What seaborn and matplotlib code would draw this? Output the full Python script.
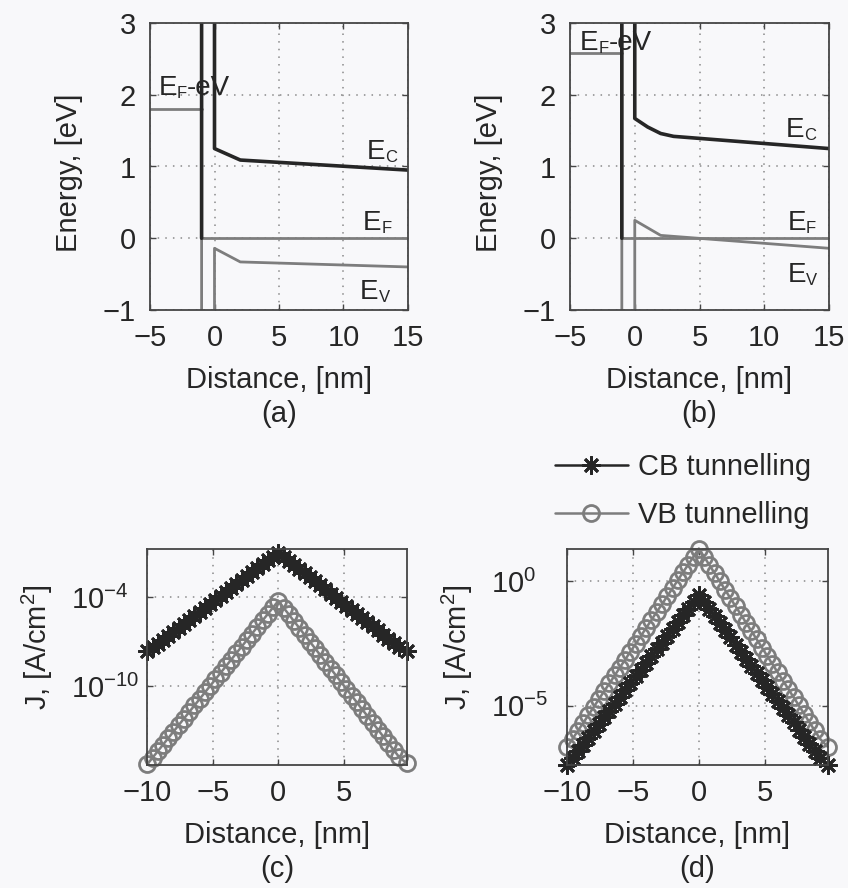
import numpy as np
import pandas as pd
import seaborn as sns
import matplotlib.pyplot as plt
from matplotlib.lines import Line2D

# ---- band diagrams (a), (b): corner points of each band edge, energy in eV
a_ec_x = [-1, -1, 0, 0, 2, 15]
a_ec_y = [0, 5, 5, 1.25, 1.09, 0.95]
a_ev_x = [-1, -1, 0, 0, 2, 15]
a_ev_y = [5, -5, -5, -0.14, -0.33, -0.40]
a_metal = 1.8

b_ec_x = [-1, -1, 0, 0, 1, 2, 3, 15]
b_ec_y = [0, 5, 5, 1.67, 1.55, 1.46, 1.42, 1.25]
b_ev_x = [-1, -1, 0, 0, 2, 15]
b_ev_y = [5, -5, -5, 0.25, 0.04, -0.14]
b_metal = 2.58

# ---- tunnelling current density (c), (d): log10(J [A/cm^2]) vs distance [nm]
dist = [-10.0, -9.6, -9.2, -8.8, -8.4, -8.0, -7.6, -7.2, -6.8, -6.4, -6.0, -5.6, -5.2,
        -4.8, -4.4, -4.0, -3.6, -3.2, -2.8, -2.4, -2.0, -1.6, -1.2, -0.8, -0.4, 0.0,
        0.4, 0.8, 1.2, 1.6, 2.0, 2.4, 2.8, 3.2, 3.6, 4.0, 4.4, 4.8, 5.2, 5.6, 6.0,
        6.4, 6.8, 7.2, 7.6, 8.0, 8.4, 8.8, 9.2, 9.8]
c_cb = [-7.65, -7.38, -7.12, -6.85, -6.59, -6.32, -6.05, -5.79, -5.52, -5.26, -4.99, -4.72, -4.46,
        -4.19, -3.93, -3.66, -3.39, -3.13, -2.86, -2.60, -2.33, -2.06, -1.80, -1.53, -1.27, -1.00,
        -1.28, -1.55, -1.83, -2.10, -2.38, -2.66, -2.93, -3.21, -3.48, -3.76, -4.04, -4.31, -4.59,
        -4.86, -5.14, -5.42, -5.69, -5.97, -6.24, -6.52, -6.80, -7.07, -7.35, -7.62]
c_vb = [-15.25, -14.81, -14.37, -13.93, -13.49, -13.05, -12.61, -12.17, -11.73, -11.29, -10.85,
        -10.41, -9.97, -9.53, -9.09, -8.65, -8.21, -7.77, -7.33, -6.89, -6.45, -6.01, -5.57, -5.13,
        -4.69, -4.25, -4.71, -5.16, -5.62, -6.07, -6.53, -6.99, -7.44, -7.90, -8.35, -8.81, -9.27,
        -9.72, -10.18, -10.63, -11.09, -11.55, -12.00, -12.46, -12.91, -13.37, -13.83, -14.28,
        -14.74, -15.19]
d_cb = [-7.38, -7.11, -6.83, -6.56, -6.29, -6.02, -5.74, -5.47, -5.20, -4.92, -4.65, -4.38, -4.11,
        -3.83, -3.56, -3.29, -3.02, -2.74, -2.47, -2.20, -1.92, -1.65, -1.38, -1.11, -0.83, -0.56,
        -0.84, -1.13, -1.41, -1.70, -1.98, -2.26, -2.55, -2.83, -3.12, -3.40, -3.68, -3.97, -4.25,
        -4.54, -4.82, -5.10, -5.39, -5.67, -5.96, -6.24, -6.52, -6.81, -7.09, -7.38]
d_vb = [-6.65, -6.33, -6.01, -5.70, -5.38, -5.06, -4.74, -4.42, -4.11, -3.79, -3.47, -3.15, -2.83,
        -2.52, -2.20, -1.88, -1.56, -1.24, -0.93, -0.61, -0.29, 0.03, 0.35, 0.66, 0.98, 1.30,
        0.97, 0.64, 0.31, -0.02, -0.36, -0.69, -1.02, -1.35, -1.68, -2.01, -2.34, -2.67, -3.01,
        -3.34, -3.67, -4.00, -4.33, -4.66, -4.99, -5.32, -5.66, -5.99, -6.32, -6.65]

ink = '#262626'
grey = '#7d7d7d'
bg = '#f8f8fa'

sns.set_style('ticks')
plt.rcParams['font.family'] = ['Liberation Sans', 'DejaVu Sans']
plt.rcParams['mathtext.fontset'] = 'custom'
plt.rcParams['mathtext.rm'] = 'Liberation Sans'
plt.rcParams['mathtext.it'] = 'Liberation Sans:italic'
plt.rcParams['mathtext.bf'] = 'Liberation Sans:bold'
fs = 21

fig = plt.figure(figsize=(8.48, 8.88), dpi=100, facecolor=bg)
ax_a = fig.add_axes([0.1769, 0.6509, 0.3042, 0.3232])
ax_b = fig.add_axes([0.6722, 0.6509, 0.3054, 0.3232])
ax_c = fig.add_axes([0.1737, 0.1385, 0.3059, 0.2432])
ax_d = fig.add_axes([0.6690, 0.1385, 0.3071, 0.2432])


def style(ax):
    ax.set_facecolor(bg)
    for s in ax.spines.values():
        s.set_color('#454545')
        s.set_linewidth(1.3)
    ax.tick_params(direction='in', length=4, width=1, colors='#454545',
                   labelcolor=ink, labelsize=fs, top=True, right=True, pad=10)
    ax.grid(True, color='#8a8a8a', linestyle=(0, (1, 4)), linewidth=1.1)


def band_label(ax, x, y, parts):
    t = ax.text(x, y, parts[0], fontsize=20, va='baseline', ha='left', color=ink)
    for i, p in enumerate(parts[1:]):
        t = ax.annotate(p, xy=(1, 0), xycoords=t, va='bottom', ha='left',
                        fontsize=12 if i % 2 == 0 else 20, color=ink)


def band_panel(ax, ec_x, ec_y, ev_x, ev_y, metal, letter, labels):
    sns.lineplot(x=[-5, -1], y=[metal, metal], ax=ax, color=grey, lw=2,
                 sort=False, estimator=None)
    sns.lineplot(x=[-1, 15], y=[0, 0], ax=ax, color=grey, lw=2,
                 sort=False, estimator=None)
    sns.lineplot(x=ev_x, y=ev_y, ax=ax, color=grey, lw=2, sort=False, estimator=None)
    sns.lineplot(x=ec_x, y=ec_y, ax=ax, color=ink, lw=2.6, sort=False, estimator=None)
    ax.set_xlim(-5, 15)
    ax.set_ylim(-1, 3)
    ax.set_xticks([-5, 0, 5, 10, 15])
    ax.set_yticks([-1, 0, 1, 2, 3])
    style(ax)
    ax.set_xlabel('Distance, [nm]\n(' + letter + ')', fontsize=fs, color=ink,
                  labelpad=10, linespacing=1.3)
    ax.set_ylabel('Energy, [eV]', fontsize=fs, color=ink)
    ax.yaxis.set_label_coords(-0.26, 0.479)
    for x, y, parts in labels:
        band_label(ax, x, y, parts)


band_panel(ax_a, a_ec_x, a_ec_y, a_ev_x, a_ev_y, a_metal, 'a',
           [(-4.36, 1.99, ('E', 'F', '-eV')), (11.8, 1.11, ('E', 'C')),
            (11.5, 0.11, ('E', 'F')), (11.3, -0.84, ('E', 'V'))])
band_panel(ax_b, b_ec_x, b_ec_y, b_ev_x, b_ev_y, b_metal, 'b',
           [(-4.23, 2.62, ('E', 'F', '-eV')), (11.68, 1.41, ('E', 'C')),
            (11.8, 0.11, ('E', 'F')), (11.8, -0.61, ('E', 'V'))])

star = (8, 2, 0)
cb_kw = dict(color=ink, lw=1.8, marker=star, markersize=13, markeredgewidth=2.0,
             markeredgecolor=ink, sort=False, estimator=None)
vb_kw = dict(color=grey, lw=1.8, marker='o', markersize=11.5, markeredgewidth=2.0,
             markerfacecolor='none', markeredgecolor=grey, sort=False, estimator=None)


def current_panel(ax, cb, vb, ylim, yticks, letter):
    df = pd.DataFrame({'x': dist, 'cb': 10.0 ** np.array(cb), 'vb': 10.0 ** np.array(vb)})
    ax.set_yscale('log')
    sns.lineplot(data=df, x='x', y='vb', ax=ax, **vb_kw)
    sns.lineplot(data=df, x='x', y='cb', ax=ax, **cb_kw)
    for l in ax.lines:
        l.set_clip_on(False)
    ax.set_xlim(-10, 9.8)
    ax.set_ylim(10.0 ** ylim[0], 10.0 ** ylim[1])
    ax.set_xticks([-10, -5, 0, 5])
    ax.set_yticks([10.0 ** t for t in yticks])
    ax.minorticks_off()
    style(ax)
    ax.tick_params(axis='y', pad=55)
    for t in ax.get_yticklabels():
        t.set_ha('left')
    ax.set_xlabel('Distance, [nm]\n(' + letter + ')', fontsize=fs, color=ink,
                  labelpad=10, linespacing=1.3)
    ax.set_ylabel(r'J, [A/cm$^\mathregular{2}$]', fontsize=fs, color=ink)
    ax.yaxis.set_label_coords(-0.356, 0.544)


current_panel(ax_c, c_cb, c_vb, (-15.3, -0.76), [-10, -4], 'c')
current_panel(ax_d, d_cb, d_vb, (-7.38, 1.28), [-5, 0], 'd')

handles = [Line2D([], [], color=ink, lw=1.8, marker=star, markersize=13,
                  markeredgewidth=2.0, markeredgecolor=ink),
           Line2D([], [], color=grey, lw=1.8, marker='o', markersize=11.5,
                  markeredgewidth=2.0, markerfacecolor='none', markeredgecolor=grey)]
fig.legend(handles, ['CB tunnelling', 'VB tunnelling'], loc='upper left',
           bbox_to_anchor=(0.654, 0.49), frameon=False, fontsize=fs,
           handlelength=2.5, handletextpad=0.35, labelspacing=0.68,
           borderpad=0, borderaxespad=0, labelcolor=ink)

fig.savefig('out.png', dpi=100, facecolor=bg)
